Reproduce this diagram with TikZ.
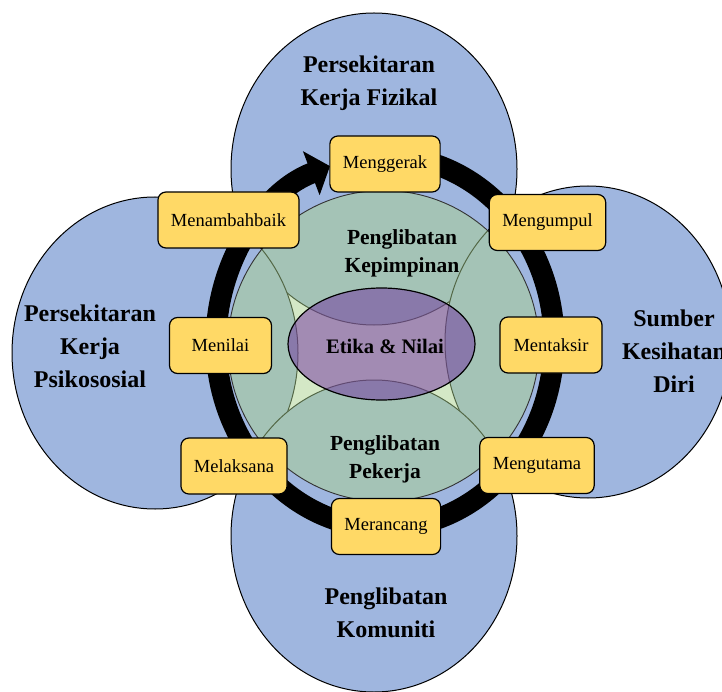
\documentclass[tikz,border=0pt]{standalone}
\usepackage{fontspec}
\setmainfont{Liberation Serif}
\usetikzlibrary{arrows.meta}
\definecolor{birumuda}{HTML}{9FB6DF}
\definecolor{kuning}{HTML}{FFD966}
\definecolor{hijau}{HTML}{A9D18E}
\definecolor{ungu}{HTML}{7030A0}
\begin{document}
\begin{tikzpicture}[x=1pt,y=-1pt,
  kotak/.style={draw,fill=kuning,rounded corners=8pt,line width=1.2pt,minimum width=102pt,minimum height=56pt,inner xsep=13pt,font=\fontsize{18.5}{22}\selectfont},
  tajuk/.style={align=center,font=\fontsize{24}{33}\selectfont\bfseries},
  dalam/.style={align=center,font=\fontsize{21.5}{28}\selectfont\bfseries}]
  \useasboundingbox (0,0) rectangle (722,692);
  \clip (0,0) rectangle (722,692);
  % empat bulatan luar, bulatan hijau dan kitaran
  \foreach \cx/\cy in {374/169,155/353,588/342,374/536}
    \draw[fill=birumuda,line width=1pt] (\cx,\cy) ellipse [x radius=143,y radius=156];
  \draw[fill=hijau,fill opacity=.5,draw=black!80,line width=.9pt] (383.5,346) circle (155.5);
  \draw[line width=21pt,-{Triangle[length=20pt,width=46pt]}] (385,342) ++(275:169 and 186)
    arc[start angle=275,end angle=611,x radius=169,y radius=186];
  \draw[fill=ungu,fill opacity=.5,line width=1.2pt] (381.5,344) ellipse [x radius=93.5,y radius=56];
  \foreach \n/\x/\y/\t in {gerak/385/164/Menggerak,kumpul/547.5/222.5/Mengumpul,taksir/551/345/Mentaksir,
      utama/537/465.5/Mengutama,rancang/386/526.5/Merancang,laksana/234/466/Melaksana,
      nilai/220.5/345.5/Menilai,tambah/228.5/220/Menambahbaik}
    \node[kotak] (\n) at (\x,\y) {\t};
  \node[tajuk] (fizikal) at (369,83) {Persekitaran\\Kerja Fizikal};
  \node[tajuk] (psiko) at (90,346) {Persekitaran\\Kerja\\Psikososial};
  \node[tajuk] (diri) at (674,351) {Sumber\\Kesihatan\\Diri};
  \node[tajuk] (komuniti) at (386,613) {Penglibatan\\Komuniti};
  \node[dalam] (pimpin) at (402,253) {Penglibatan\\Kepimpinan};
  \node[dalam] (pekerja) at (385,459) {Penglibatan\\Pekerja};
  \node[font=\fontsize{20.6}{24}\selectfont\bfseries] (etika) at (385,346) {Etika \& Nilai};
\end{tikzpicture}
\end{document}
